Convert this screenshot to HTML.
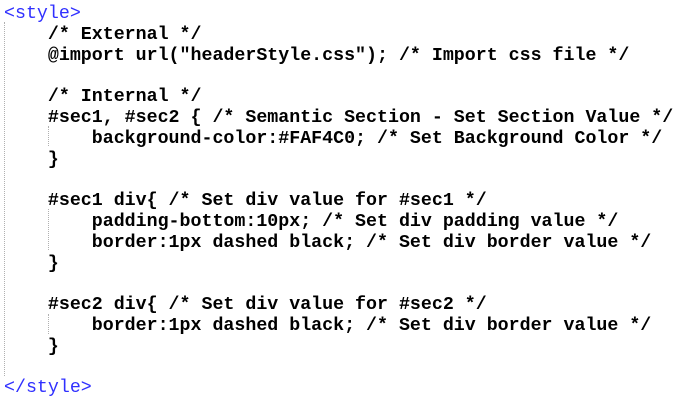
<!DOCTYPE html>
<html><head><style>
body{margin:0;width:698px;height:402px;background:#fff;overflow:hidden;position:relative}
pre{position:absolute;left:4px;top:4px;margin:0;font-family:"Liberation Mono",monospace;font-size:18.3px;line-height:20.8px;font-weight:bold;color:#000}
.t{color:#3030ff;font-weight:normal}
.g{position:absolute;border-left:1px dotted #b0b0b0;width:0}
</style></head><body>
<div class="g" style="left:4px;top:22px;height:354px"></div>
<div class="g" style="left:48px;top:126px;height:20px"></div>
<div class="g" style="left:48px;top:209px;height:41px"></div>
<div class="g" style="left:48px;top:314px;height:20px"></div>
<pre><span class="t">&lt;style&gt;</span>
    /* External */
    @import url("headerStyle.css"); /* Import css file */

    /* Internal */
    #sec1, #sec2 { /* Semantic Section - Set Section Value */
        background-color:#FAF4C0; /* Set Background Color */
    }

    #sec1 div{ /* Set div value for #sec1 */
        padding-bottom:10px; /* Set div padding value */
        border:1px dashed black; /* Set div border value */
    }

    #sec2 div{ /* Set div value for #sec2 */
        border:1px dashed black; /* Set div border value */
    }

<span class="t">&lt;/style&gt;</span></pre>
</body></html>
